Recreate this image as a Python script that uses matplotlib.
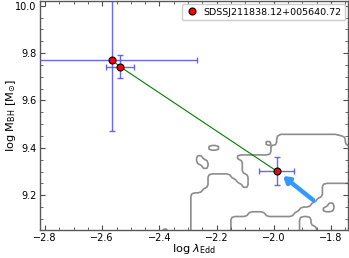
import matplotlib
matplotlib.use("Agg")
import matplotlib.pyplot as plt
from matplotlib.ticker import MultipleLocator
import numpy as np

# measured points: log lambda_Edd, log M_BH and their errors
lam = [-2.567, -2.538, -1.99]
mbh = [9.772, 9.743, 9.302]
lam_err = [0.30, 0.05, 0.06]
mbh_err = [0.30, 0.05, 0.06]
label = "SDSSJ211838.12+005640.72"

# blue arrow (tail -> head)
arrow_tail = (-1.863, 9.180)
arrow_head = (-1.968, 9.281)

# density map of the comparison sample (1 = inside)
grid_x = np.arange(36) * 0.02 - 2.40
grid_y = np.arange(23) * 0.02 + 9.04
density_rows = [  # top row first (y = 9.48) down to y = 9.04
    "....................................",
    ".....................:::::::::::....",
    ".....................############...",
    "...................#.############...",
    ".........##.........##############..",
    "....................################",
    ".......#......######################",
    ".......##......#####################",
    "........#......#####################",
    "...............#####################",
    ".........####...####################",
    ".........#####..####################",
    ".........######.#############.......",
    "........#####################.......",
    "......#######################.......",
    "......######################........",
    "......#####################...#.....",
    "......###################....##.....",
    "......##########...#####............",
    "......#######............##.........",
    "......#######............##.........",
    ".+....#######............###........",
    ".#....#######............###........",
]
val = {".": 0.0, ":": 0.4, "+": 0.6, "#": 1.0}
density = np.array([[val[c] for c in row] for row in density_rows[::-1]])

# refine the map 2x and soften the corners a little
fine = np.kron(density, np.ones((2, 2)))
fx = np.repeat(grid_x, 2) + np.tile([-0.005, 0.005], len(grid_x))
fy = np.repeat(grid_y, 2) + np.tile([-0.005, 0.005], len(grid_y))
k = np.array([1.0, 2.0, 1.0]) / 4.0
pad = np.pad(fine, 1, mode="edge")
fine = (k[0] * pad[:, :-2] + k[1] * pad[:, 1:-1] + k[2] * pad[:, 2:])
fine = (k[0] * fine[:-2] + k[1] * fine[1:-1] + k[2] * fine[2:])

fig = plt.figure(figsize=(3.49, 2.58), dpi=100)
ax = fig.add_axes([0.1146, 0.1085, 0.8825, 0.8876])

ax.contour(fx, fy, fine, levels=[0.5], colors="#8c8c8c",
           linewidths=1.2, zorder=1)

ax.plot(lam, mbh, "-", color="green", lw=0.8, zorder=2)
ax.errorbar(lam, mbh, xerr=lam_err, yerr=mbh_err, fmt="none",
            ecolor="#4f4fe8", elinewidth=1.0, capsize=2.5, capthick=1.0,
            alpha=0.85, zorder=3)
ax.plot(lam, mbh, "o", ms=5, mfc="red", mec="k", mew=0.8, ls="none",
        label=label, zorder=4)

ax.annotate("", xy=arrow_head, xytext=arrow_tail,
            arrowprops=dict(arrowstyle="-|>,head_width=0.22,head_length=0.35",
                            color="#3399ff", lw=3.2, shrinkA=0, shrinkB=0),
            zorder=3)

ax.set_xlim(-2.8175, -1.7406)
ax.set_ylim(9.053, 10.02)
ax.xaxis.set_major_locator(MultipleLocator(0.2))
ax.xaxis.set_minor_locator(MultipleLocator(0.05))
ax.yaxis.set_major_locator(MultipleLocator(0.2))
ax.yaxis.set_minor_locator(MultipleLocator(0.05))
ax.tick_params(which="both", direction="in", top=True, right=True,
               labelsize=7, color="0.3")
ax.tick_params(which="major", length=3.5, width=0.8, pad=2.5)
ax.tick_params(which="minor", length=2, width=0.6)
for s in ax.spines.values():
    s.set_color("0.35")
    s.set_linewidth(1.0)

ax.set_xlabel(r"log $\lambda_{\rm Edd}$", fontsize=8.2, labelpad=-1)
ax.set_ylabel(r"log M$_{\rm BH}$ [M$_{\odot}$]", fontsize=8.2, labelpad=-2)

ax.legend(loc="upper right", fontsize=6.8, handletextpad=0.6,
          borderpad=0.4, handlelength=1.2, framealpha=1,
          borderaxespad=0.3)

fig.savefig("out.png", dpi=100)
